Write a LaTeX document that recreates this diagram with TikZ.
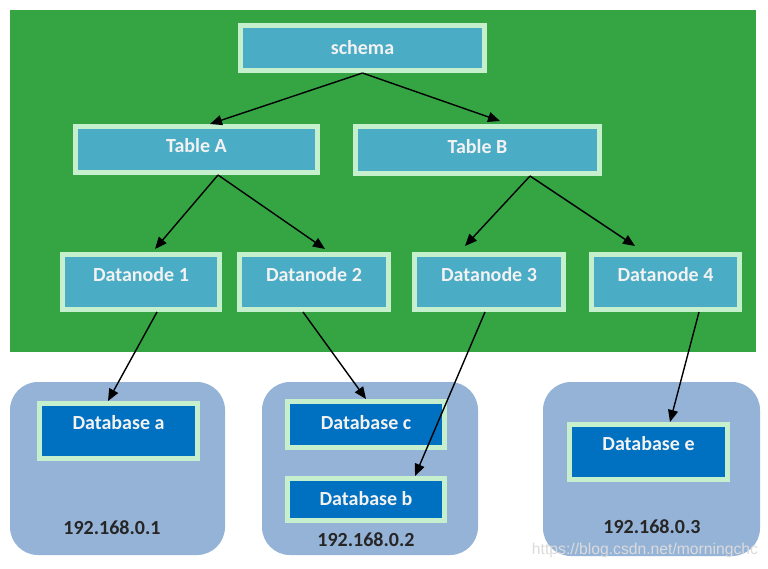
\documentclass[tikz,border=0pt]{standalone}
\usepackage{fontspec}
\setmainfont{Carlito}
\newfontfamily\markfont{Liberation Sans}
\usetikzlibrary{arrows.meta,positioning,shadows}
\definecolor{bggreen}{RGB}{53,165,68}
\definecolor{rimgreen}{RGB}{198,239,206}
\definecolor{cellblue}{RGB}{75,172,198}
\definecolor{dbblue}{RGB}{0,112,192}
\definecolor{hostblue}{RGB}{149,179,215}

\begin{document}
\begin{tikzpicture}[x=1pt,y=-1pt,
every node/.style={font=\fontsize{20}{23}\selectfont\bfseries},
cell/.style={rectangle,fill=cellblue,draw=rimgreen,line width=5pt,
  text=white!95!black,text height=13pt,text depth=0.8pt,
  drop shadow={shadow xshift=1.5pt,shadow yshift=-2.5pt,opacity=.45}},
db/.style={cell,fill=dbblue},
host/.style={rectangle,rounded corners=28pt,fill=hostblue},
ip/.style={text=black!85},
link/.style={-{Triangle[length=12pt,width=10pt]},line width=1.4pt}]
\useasboundingbox[fill=white] (0,0) rectangle (768,568);
\fill[bggreen] (10,10) rectangle (756,352);

% machines
\node[host,minimum width=215pt,minimum height=173pt] (h1) at (117.5,468.5) {};
\node[host,minimum width=216pt,minimum height=173pt] (h2) at (370,468.5) {};
\node[host,minimum width=217pt,minimum height=174pt] (h3) at (651.5,469) {};
\node[ip] (ip1) at (112,528) {192.168.0.1};
\node[ip] (ip2) at (366,540) {192.168.0.2};
\node[ip] (ip3) at (652,527) {192.168.0.3};

% tree
\node[cell,minimum width=244pt,minimum height=45pt] (schema) at (362.5,48) {schema};
\node[cell,minimum width=242pt,minimum height=46pt,text depth=6.8pt] (tA) at (196.5,149.5) {Table A};
\node[cell,minimum width=244pt,minimum height=47pt,text depth=6.8pt] (tB) at (477.5,150) {Table B};
\node[cell,minimum width=157pt,minimum height=55pt,text depth=14.8pt] (dn1) at (141,282) {Datanode 1};
\node[cell,minimum width=149pt,minimum height=55pt,text depth=14.8pt] (dn2) at (314,282) {Datanode 2};
\node[cell,minimum width=149pt,minimum height=55pt,text depth=14.8pt] (dn3) at (489,282) {Datanode 3};
\node[cell,minimum width=148pt,minimum height=55pt,text depth=14.8pt] (dn4) at (665.5,282) {Datanode 4};
\node[db,minimum width=158pt,minimum height=55pt,text depth=16.8pt] (dba) at (118.5,431) {Database a};
\node[db,minimum width=157pt,minimum height=46pt,text depth=3.8pt] (dbc) at (366,424.5) {Database c};
\node[db,minimum width=157pt,minimum height=42pt] (dbb) at (366,499.5) {Database b};
\node[db,minimum width=158pt,minimum height=55pt,text depth=16.8pt] (dbe) at (648.5,452) {Database e};

\draw[link] (schema.south) -- ([xshift=13.5pt]tA.north);
\draw[link] (schema.south) -- ([xshift=22.5pt,yshift=3pt]tB.north);
\draw[link] ([xshift=21.5pt]tA.south) -- ([xshift=14pt,yshift=3pt]dn1.north);
\draw[link] ([xshift=21.5pt]tA.south) -- ([xshift=11pt,yshift=3pt]dn2.north);
\draw[link] ([xshift=52.5pt]tB.south) -- ([xshift=-24pt,yshift=6pt]dn3.north);
\draw[link] ([xshift=52.5pt]tB.south) -- ([xshift=-30.5pt,yshift=6pt]dn4.north);
\draw[link] ([xshift=16pt]dn1.south) -- ([xshift=-10.5pt]dba.north);
\draw[link] ([xshift=-11pt]dn2.south) -- (dbc.north);
\draw[link] ([xshift=-4pt]dn3.south) -- ([xshift=49pt]dbb.north);
\draw[link] ([xshift=33.5pt]dn4.south) -- ([xshift=21.5pt]dbe.north);

\node[font=\fontsize{15.7}{18}\markfont,text=white!72!gray] (mark) at (645,550) {https://blog.csdn.net/morningchc};
\end{tikzpicture}
\end{document}
